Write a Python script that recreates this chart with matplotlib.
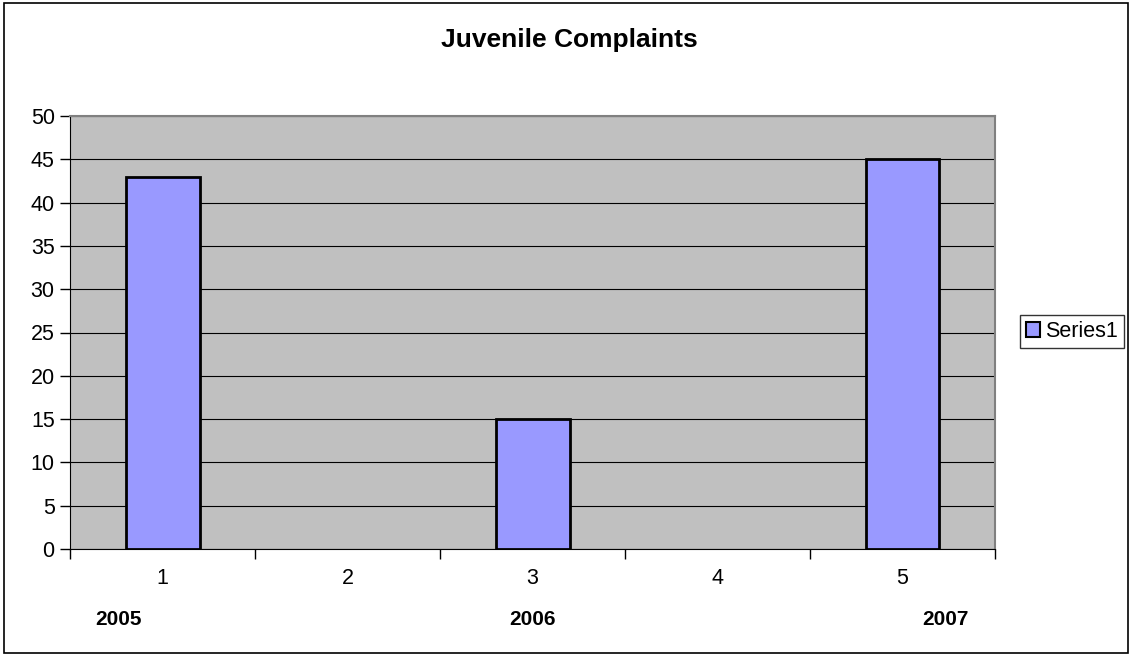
import matplotlib
matplotlib.use("Agg")
import numpy as np
import matplotlib.pyplot as plt
from matplotlib.patches import Rectangle

categories = [1, 2, 3, 4, 5]
values = [43, 0, 15, 0, 45]
year_labels = ["2005", "2006", "2007"]
year_positions = [1, 3, 5]
title = "Juvenile Complaints"
series_name = "Series1"

plt.rcParams['font.family'] = ['Liberation Sans', 'DejaVu Sans']

W, H = 1133, 658
fig = plt.figure(figsize=(W / 100, H / 100), dpi=100)

# outer border
fig.patches.append(Rectangle((4 / W, 5 / H), 1124 / W, 650 / H, transform=fig.transFigure,
                             fill=False, edgecolor='black', linewidth=1.2))

ax = fig.add_axes([70 / W, 1 - 549 / H, 925 / W, 433 / H])
ax.set_facecolor('#C0C0C0')
plot_vals = [v if v != 0 else np.nan for v in values]  # zero bars are not drawn
bars = ax.bar(categories, plot_vals, width=0.4, color='#9999FF', edgecolor='black',
              linewidth=2, label=series_name, zorder=3)
ax.set_xlim(0.5, 5.5)
ax.set_ylim(0, 50)
ax.set_yticks(range(0, 51, 5))
ax.set_xticks(categories)
ax.set_xticks([0.5 + i for i in range(6)], minor=True)
ax.tick_params(axis='x', which='major', length=0, pad=14, labelsize=15.5)
ax.tick_params(axis='x', which='minor', length=7, width=1, color='black')
ax.tick_params(axis='y', length=7, width=1, labelsize=15.5, pad=4)
ax.yaxis.grid(True, color='black', linewidth=0.8, zorder=1)
ax.set_axisbelow(True)
for s in ['top', 'right']:
    ax.spines[s].set_color('#808080')
    ax.spines[s].set_linewidth(1.5)
ax.spines['left'].set_color('black')
ax.spines['bottom'].set_color('black')

fig.text(569.5 / W, 1 - 47 / H, title, ha='center', va='baseline', fontsize=19, fontweight='bold')

offsets = [-44, 0, 43]
for lbl, pos, off in zip(year_labels, year_positions, offsets):
    xf = ax.transData.transform((pos, 0))[0]
    fig.text((xf + off) / W, 1 - 625 / H, lbl,
             ha='center', va='baseline', fontsize=15, fontweight='bold')

leg = fig.legend(handles=[bars], labels=[series_name], loc='center',
                 bbox_to_anchor=(1072 / W, 1 - 331.5 / H), fontsize=15.5, frameon=True,
                 fancybox=False, edgecolor='black', handlelength=0.65, handleheight=0.65,
                 handletextpad=0.2, borderpad=0.3, borderaxespad=0)
leg.get_frame().set_linewidth(1)
for h in leg.legend_handles:
    h.set_linewidth(1.5)

fig.savefig("out.png", dpi=100)
